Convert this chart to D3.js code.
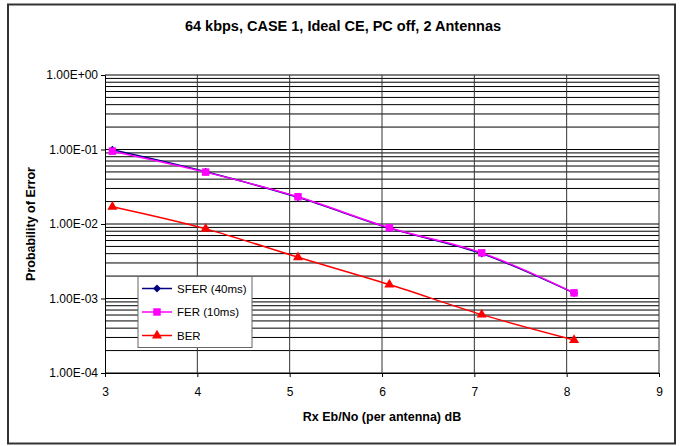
<!DOCTYPE html>
<html>
<head>
<meta charset="utf-8">
<script src="https://cdn.jsdelivr.net/npm/d3@7"></script>
<style>
  html, body { margin: 0; padding: 0; background: #fff; }
  svg { display: block; font-family: "Liberation Sans", Arial, sans-serif; }
</style>
</head>
<body>
<svg id="chart" width="680" height="446"></svg>
<script>
// Eb/No per antenna (dB) at each simulated point
const ebno = [3.08, 4.09, 5.09, 6.08, 7.08, 8.08];
// Error rates per series
const sferValues = [0.099, 0.0502, 0.0228, 0.0088, 0.0040, 0.00118];
const ferValues  = [0.095, 0.0497, 0.0232, 0.0089, 0.0041, 0.00119];
const berValues  = [0.0170, 0.0086, 0.00358, 0.00154, 0.000607, 0.000277];
const seriesNames = ["SFER (40ms)", "FER (10ms)", "BER"];
const xTicks = [3, 4, 5, 6, 7, 8, 9];
const yTicks = [1e-4, 1e-3, 1e-2, 1e-1, 1];
const chartTitle = "64 kbps, CASE 1, Ideal CE, PC off, 2 Antennas";
const xTitle = "Rx Eb/No (per antenna) dB";
const yTitle = "Probability of Error";

const svg = d3.select("#chart");
const plot = { left: 105, right: 659, top: 75, bottom: 373 };

const x = d3.scaleLinear().domain([3, 9]).range([plot.left, plot.right]);
const y = d3.scaleLog().domain([1e-4, 1]).range([plot.bottom, plot.top]);

// Outer frame
svg.append("rect")
  .attr("x", 8).attr("y", 4.5).attr("width", 667).attr("height", 439)
  .attr("fill", "#fff").attr("stroke", "#333").attr("stroke-width", 2);

// Title
svg.append("text")
  .attr("x", 343).attr("y", 31)
  .attr("text-anchor", "middle")
  .attr("font-size", 14.5).attr("font-weight", "bold")
  .text(chartTitle);

// Horizontal gridlines: each decade and its 2..9 subdivisions
const gridY = [];
for (let e = -4; e < 0; e++) {
  for (let m = 1; m <= 9; m++) gridY.push(m * Math.pow(10, e));
}
gridY.push(1);
svg.append("g").selectAll("line").data(gridY).join("line")
  .attr("x1", plot.left).attr("x2", plot.right)
  .attr("y1", d => y(d)).attr("y2", d => y(d))
  .attr("stroke", "#000").attr("stroke-width", 1);

// Vertical gridlines
svg.append("g").selectAll("line").data(xTicks.slice(1)).join("line")
  .attr("x1", d => x(d)).attr("x2", d => x(d))
  .attr("y1", plot.top).attr("y2", plot.bottom)
  .attr("stroke", "#333").attr("stroke-width", 1);

// Axes
const fmtE = v => {
  const e = Math.round(Math.log10(v));
  const sign = e < 0 ? "-" : "+";
  return "1.00E" + sign + String(Math.abs(e)).padStart(2, "0");
};

const yAxis = svg.append("g")
  .attr("transform", `translate(${plot.left},0)`)
  .call(d3.axisLeft(y).tickValues(yTicks).tickFormat(fmtE).tickSize(4).tickPadding(3));
const xAxis = svg.append("g")
  .attr("transform", `translate(0,${plot.bottom})`)
  .call(d3.axisBottom(x).tickValues(xTicks).tickFormat(d3.format("d")).tickSize(4).tickPadding(10));
[yAxis, xAxis].forEach(a => {
  a.select(".domain").attr("stroke", "#000");
  a.selectAll(".tick line").attr("stroke", "#000");
  a.selectAll("text").attr("font-size", 12).attr("fill", "#000")
    .attr("font-family", "'Liberation Sans', Arial, sans-serif");
});

// Axis titles
svg.append("text")
  .attr("x", (plot.left + plot.right) / 2).attr("y", 421)
  .attr("text-anchor", "middle")
  .attr("font-size", 12.5).attr("font-weight", "bold")
  .text(xTitle);
svg.append("text")
  .attr("transform", `translate(35,${(plot.top + plot.bottom) / 2}) rotate(-90)`)
  .attr("text-anchor", "middle")
  .attr("font-size", 12.5).attr("font-weight", "bold")
  .text(yTitle);

// Series
const line = d3.line()
  .x(d => x(d[0])).y(d => y(d[1]))
  .curve(d3.curveCatmullRom.alpha(0.5));

const series = [
  { name: seriesNames[0], values: sferValues, color: "#000080", shape: d3.symbolDiamond2, size: 40 },
  { name: seriesNames[1], values: ferValues,  color: "#FF00FF", shape: d3.symbolSquare,  size: 56 },
  { name: seriesNames[2], values: berValues,  color: "#FF0000", shape: d3.symbolTriangle, size: 44 }
];

series.forEach(s => {
  const pts = ebno.map((v, i) => [v, s.values[i]]);
  svg.append("path")
    .datum(pts)
    .attr("d", line)
    .attr("fill", "none")
    .attr("stroke", s.color)
    .attr("stroke-width", 1.5);
  svg.append("g").selectAll("path").data(pts).join("path")
    .attr("transform", d => `translate(${x(d[0])},${y(d[1])})`)
    .attr("d", d3.symbol().type(s.shape).size(s.size))
    .attr("fill", s.color);
});

// Legend
const legend = svg.append("g");
legend.append("rect")
  .attr("x", 138).attr("y", 276.5).attr("width", 114).attr("height", 71)
  .attr("fill", "#fff").attr("stroke", "#666").attr("stroke-width", 1);
series.forEach((s, i) => {
  const ly = 288.5 + i * 23.5;
  legend.append("line")
    .attr("x1", 142).attr("x2", 172).attr("y1", ly).attr("y2", ly)
    .attr("stroke", s.color).attr("stroke-width", 1.5);
  legend.append("path")
    .attr("transform", `translate(157,${ly})`)
    .attr("d", d3.symbol().type(s.shape).size(s.size))
    .attr("fill", s.color);
  legend.append("text")
    .attr("x", 177).attr("y", ly + 4)
    .attr("font-size", 11.5)
    .text(s.name);
});
</script>
</body>
</html>
